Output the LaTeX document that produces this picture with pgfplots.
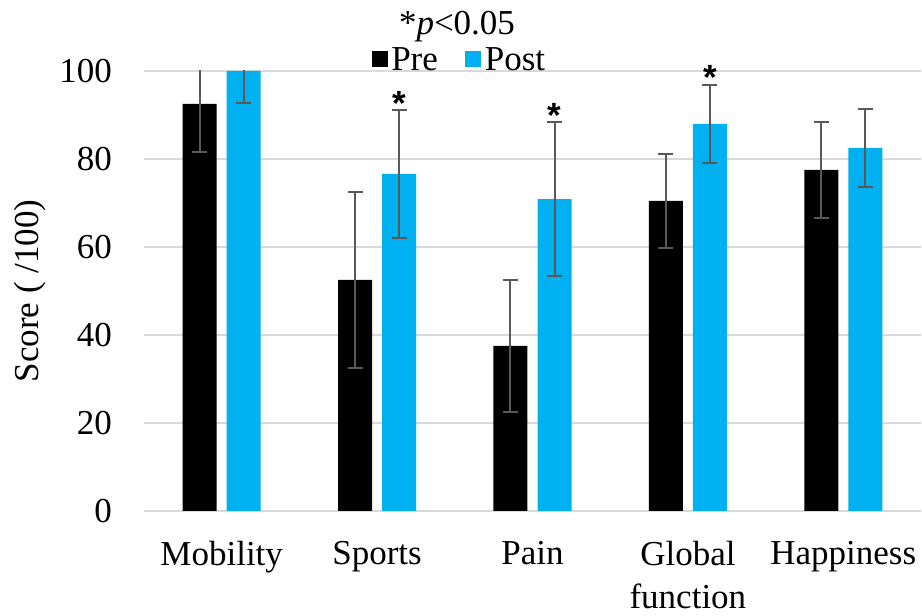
\documentclass[border=0pt]{standalone}
\usepackage{fontspec}
\setmainfont{Liberation Serif}
\newfontfamily\starfont{Liberation Sans}
\usepackage{pgfplots}
\pgfplotsset{compat=1.18}
\definecolor{postblue}{HTML}{00B0F0}
\definecolor{gridgray}{HTML}{D9D9D9}
\definecolor{errgray}{HTML}{595959}

\begin{document}
\begin{tikzpicture}[font=\fontsize{35}{43}\selectfont]
\begin{axis}[
  scale only axis,
  width=777pt, height=440pt,
  xmin=-0.5, xmax=4.5,
  ymin=0, ymax=100,
  xtick={0,1,2,3,4},
  xticklabels={Mobility,Sports,Pain,{Global\\function},Happiness},
  ytick={0,20,40,60,80,100},
  ymajorgrids,
  grid style={gridgray, line width=2pt},
  axis line style={draw=none},
  major tick length=0pt,
  /pgf/number format/assume math mode=true,
  xticklabel style={anchor=north, align=center, inner sep=0pt, yshift=-30pt},
  yticklabel style={anchor=east, inner sep=0pt, xshift=-32pt},
  ylabel={Score ( /100)},
  ylabel style={at={(axis description cs:-0.1467,0.5)}, anchor=center, inner sep=0pt},
  legend columns=2,
  legend style={at={(rel axis cs:0.407,1.025)}, anchor=center, draw=none, fill=none,
    nodes={inner sep=3.5pt},
    /tikz/every even column/.append style={column sep=24pt}},
  legend image code/.code={\fill[#1] (0pt,-7pt) rectangle (16pt,9pt);},
  error bars/y dir=both,
  error bars/y explicit,
  error bars/error bar style={errgray, line width=2pt},
  error bars/error mark options={rotate=90, errgray, mark size=7.5pt, line width=2pt},
]
% Pre-intervention scores (bars sit left of each category centre)
\addplot[ybar, bar width=34pt, bar shift=0pt, fill=black, draw=none]
  coordinates {(-0.1416,92.5) +- (0,11.0) (0.8584,52.5) +- (0,20.0) (1.8584,37.5) +- (0,15.0)
               (2.8584,70.5) +- (0,10.7) (3.8584,77.5) +- (0,11.0)};
\addlegendentry{Pre}
% Post-intervention scores (bars sit right of each category centre)
\addplot[ybar, bar width=34pt, bar shift=0pt, fill=postblue, draw=none]
  coordinates {(0.1416,100.0) +- (0,7.2) (1.1416,76.6) +- (0,14.5) (2.1416,70.9) +- (0,17.5)
               (3.1416,88.0) +- (0,8.9) (4.1416,82.5) +- (0,8.9)};
\addlegendentry{Post}
% significance markers above the post error bars
\addplot[forget plot, draw=none, mark=none, nodes near coords={\starfont\bfseries *},
  every node near coord/.style={anchor=base, yshift=-5pt, inner sep=0pt}]
  coordinates {(1.1416,91.1) (2.1416,88.4) (3.1416,96.9)};
\end{axis}
\node[anchor=base, inner sep=0pt] at (313pt,476pt) {*\textit{p}<0.05};
\pgfresetboundingbox
\path[use as bounding box] (-144pt,-105pt) rectangle (778pt,511pt);
\end{tikzpicture}
\end{document}
